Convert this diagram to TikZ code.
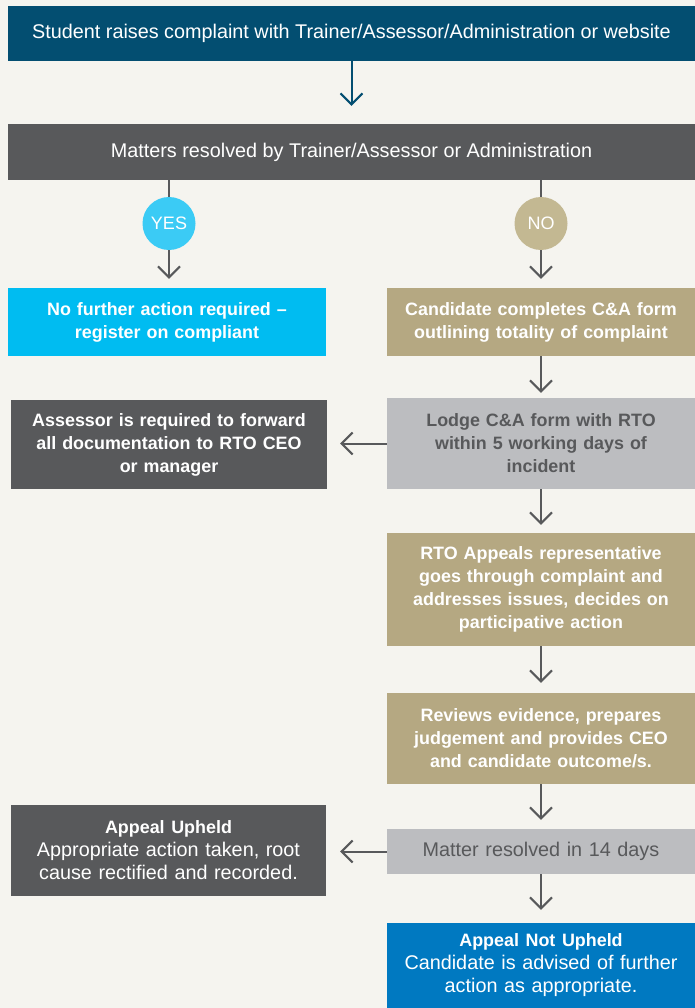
\documentclass[tikz,border=0pt]{standalone}
\usepackage{fontspec}
\setmainfont{Liberation Sans}
\usetikzlibrary{arrows.meta}
\definecolor{bgc}{HTML}{F5F4EF}
\definecolor{teal}{HTML}{034E71}
\definecolor{dgray}{HTML}{58595B}
\definecolor{lgray}{HTML}{BCBDC0}
\definecolor{cyanc}{HTML}{3BCBF5}
\definecolor{cyanb}{HTML}{00BCF1}
\definecolor{tanc}{HTML}{C3B892}
\definecolor{tanb}{HTML}{B5A882}
\definecolor{blueb}{HTML}{0079C1}
\newcommand{\bftext}[1]{{\fontsize{17.9}{23}\selectfont\bfseries #1}}
\tikzset{
  box/.style={rectangle, inner sep=0pt, align=center, text=white, font=\fontsize{19.8}{23}\selectfont},
  bbox/.style={box, font=\fontsize{17.9}{23}\selectfont\bfseries},
  circ/.style={circle, inner sep=0pt, minimum size=53pt, text=white, font=\fontsize{18}{20}\selectfont},
  arr/.style={draw=dgray, line width=2pt, -{Straight Barb[length=11pt,width=22pt]}},
  ln/.style={draw=dgray, line width=2pt},
}
\begin{document}
\begin{tikzpicture}[x=1pt,y=-1pt]
\fill[bgc] (0,0) rectangle (695,1008);
\useasboundingbox (0,0) rectangle (695,1008);
% boxes
\node[box, fill=teal, minimum width=687pt, minimum height=55pt] (top) at (351.5,33.5) {Student raises complaint with Trainer/Assessor/Administration or website};
\node[box, fill=dgray, minimum width=687pt, minimum height=56pt] (mat) at (351.5,152) {Matters resolved by Trainer/Assessor or Administration};
\node[circ, fill=cyanc] (yes) at (169,223.5) {YES};
\node[circ, fill=tanc] (no) at (541,223.5) {NO};
\node[bbox, fill=cyanb, minimum width=318pt, minimum height=68pt, text width=310pt] (nfa) at (167,322) {No further action required --\\register on compliant};
\node[bbox, fill=tanb, minimum width=308pt, minimum height=68pt, text width=305pt] (cand) at (541,322) {Candidate completes C\&A form\\outlining totality of complaint};
\node[bbox, fill=lgray, text=dgray, minimum width=308pt, minimum height=91pt, text width=305pt] (lodge) at (541,443.5) {Lodge C\&A form with RTO\\within 5 working days of\\incident};
\node[bbox, fill=dgray, minimum width=316pt, minimum height=89pt, text width=310pt] (ass) at (169,444.5) {Assessor is required to forward\\all documentation to RTO CEO\\or manager};
\node[bbox, fill=tanb, minimum width=308pt, minimum height=113pt, text width=305pt] (rto) at (541,589.5) {RTO Appeals representative\\goes through complaint and\\addresses issues, decides on\\participative action};
\node[bbox, fill=tanb, minimum width=308pt, minimum height=91pt, text width=305pt] (rev) at (541,738.5) {Reviews evidence, prepares\\judgement and provides CEO\\and candidate outcome/s.};
\node[box, fill=lgray, text=dgray, minimum width=308pt, minimum height=45pt, text width=305pt] (res) at (541,851.5) {Matter resolved in 14 days};
\node[box, fill=dgray, minimum width=315pt, minimum height=91pt, text width=310pt] (up) at (168.5,850.5) {\bftext{Appeal Upheld}\\Appropriate action taken, root\\cause rectified and recorded.};
\node[box, fill=blueb, minimum width=308pt, minimum height=85pt, text width=305pt] (nup) at (541,965.5) {\bftext{Appeal Not Upheld}\\Candidate is advised of further\\action as appropriate.};
% connectors
\draw[arr, draw=teal, shorten >=18pt] (top.south -| mat.north) -- (mat.north);
\draw[ln] (mat.south -| yes.north) -- (yes.north);
\draw[ln] (mat.south -| no.north) -- (no.north);
\draw[arr, shorten >=9pt] (yes.south) -- (yes.south |- nfa.north);
\draw[arr, shorten >=9pt] (no.south) -- (cand.north);
\draw[arr, shorten >=5pt] (cand.south) -- (lodge.north);
\draw[arr, shorten >=13pt] (lodge.west) -- (ass.east |- lodge.west);
\draw[arr, shorten >=8pt] (lodge.south) -- (rto.north);
\draw[arr, shorten >=10pt] (rto.south) -- (rev.north);
\draw[arr, shorten >=9pt] (rev.south) -- (res.north);
\draw[arr, shorten >=14pt] (res.west) -- (up.east |- res.west);
\draw[arr, shorten >=13pt] (res.south) -- (nup.north);
\end{tikzpicture}
\end{document}
